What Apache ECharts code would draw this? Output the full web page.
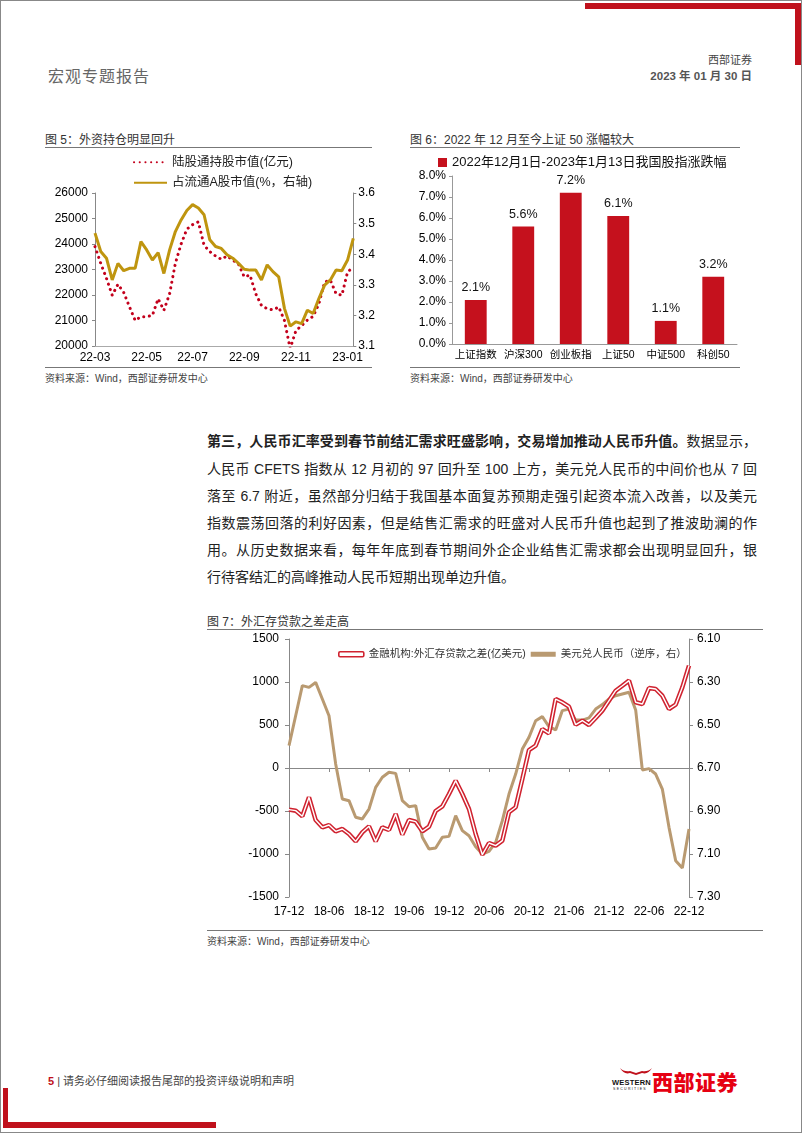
<!DOCTYPE html>
<html><head><meta charset="utf-8">
<script src="https://cdn.jsdelivr.net/npm/echarts@6/dist/echarts.min.js"></script>
<style>
html,body{margin:0;padding:0;background:#fff}
body{width:802px;height:1133px;position:relative;overflow:hidden;font-family:"Liberation Sans","Noto Sans CJK SC",sans-serif;color:#222}
.a{position:absolute}
.ttl{font-size:12px;color:#333;white-space:nowrap}
.src{font-size:10px;color:#444;white-space:nowrap}
.hl{height:1px;background:#777}
.p{left:207px;width:550px;font-size:14px;line-height:20px;text-align:justify;text-align-last:justify;color:#222;white-space:nowrap}
.p.last{text-align-last:left}
</style></head><body>
<div class="a" style="left:0;top:0;width:800px;height:1131px;border:1px solid #888"></div>
<div class="a" style="left:585px;top:3px;width:216px;height:6px;background:#c0111c"></div>
<div class="a" style="left:795px;top:3px;width:6px;height:62px;background:#c0111c"></div>
<div class="a" style="left:48px;top:63px;font-size:16px;color:#666;letter-spacing:1px">宏观专题报告</div>
<div class="a" style="right:50px;top:51px;font-size:11px;color:#444">西部证券</div>
<div class="a" style="right:50px;top:67px;font-size:11.5px;color:#555;font-weight:bold">2023 年 01 月 30 日</div>

<div class="a ttl" style="left:45px;top:130px">图 5：外资持仓明显回升</div>
<div class="a hl" style="left:45px;top:147px;width:327px"></div>
<div class="a" id="c5" style="left:40px;top:148px;width:338px;height:218px"></div>
<div class="a hl" style="left:45px;top:367px;width:327px"></div>
<div class="a src" style="left:45px;top:370px">资料来源：Wind，西部证券研发中心</div>

<div class="a ttl" style="left:410px;top:130px">图 6：2022 年 12 月至今上证 50 涨幅较大</div>
<div class="a hl" style="left:410px;top:147px;width:330px"></div>
<div class="a" id="c6" style="left:400px;top:148px;width:345px;height:218px"></div>
<div class="a hl" style="left:410px;top:367px;width:330px"></div>
<div class="a src" style="left:410px;top:370px">资料来源：Wind，西部证券研发中心</div>

<div class="a p" style="top:431px"><b>第三，人民币汇率受到春节前结汇需求旺盛影响，交易增加推动人民币升值。</b>数据显示，</div>
<div class="a p" style="top:459px">人民币 CFETS 指数从 12 月初的 97 回升至 100 上方，美元兑人民币的中间价也从 7 回</div>
<div class="a p" style="top:486px">落至 6.7 附近，虽然部分归结于我国基本面复苏预期走强引起资本流入改善，以及美元</div>
<div class="a p" style="top:513px">指数震荡回落的利好因素，但是结售汇需求的旺盛对人民币升值也起到了推波助澜的作</div>
<div class="a p" style="top:540px">用。从历史数据来看，每年年底到春节期间外企企业结售汇需求都会出现明显回升，银</div>
<div class="a p last" style="top:567px">行待客结汇的高峰推动人民币短期出现单边升值。</div>

<div class="a ttl" style="left:207px;top:612px">图 7：外汇存贷款之差走高</div>
<div class="a hl" style="left:207px;top:629px;width:556px"></div>
<div class="a" id="c7" style="left:200px;top:630px;width:575px;height:300px"></div>
<div class="a hl" style="left:207px;top:930px;width:556px"></div>
<div class="a src" style="left:207px;top:933px">资料来源：Wind，西部证券研发中心</div>

<div class="a" style="left:48px;top:1072px;font-size:11px;color:#444;white-space:nowrap"><b style="color:#c0111c">5</b> | 请务必仔细阅读报告尾部的投资评级说明和声明</div>
<svg class="a" style="left:618px;top:1066px" width="36" height="12"><path d="M2 2 Q6 9 12 7 L18 9 L24 7 Q30 9 34 2 Q30 6 24 5 L18 7 L12 5 Q6 6 2 2Z" fill="#c0111c"/></svg>
<div class="a" style="left:612px;top:1078px;font-size:7.5px;font-weight:bold;color:#111;letter-spacing:0.2px">WESTERN</div>
<div class="a" style="left:613px;top:1087px;font-size:3.5px;color:#111;letter-spacing:1.3px">SECURITIES</div>
<div class="a" style="left:652px;top:1066px;font-size:21px;font-weight:900;color:#e60012;letter-spacing:0.5px">西部证券</div>
<div class="a" style="left:3px;top:1088px;width:5px;height:40px;background:#c0111c"></div>
<div class="a" style="left:3px;top:1122px;width:213px;height:6px;background:#c0111c"></div>

<script>
const FONT = '"Liberation Sans","Noto Sans CJK SC",sans-serif';

// ---------- Chart 5 data ----------
const weeks5 = ['2022-03-04','2022-03-11','2022-03-18','2022-03-25','2022-04-01','2022-04-08','2022-04-15','2022-04-22','2022-04-29',
 '2022-05-06','2022-05-13','2022-05-20','2022-05-27','2022-06-03','2022-06-10','2022-06-17','2022-06-24',
 '2022-07-01','2022-07-08','2022-07-15','2022-07-22','2022-07-29','2022-08-05','2022-08-12','2022-08-19','2022-08-26',
 '2022-09-02','2022-09-09','2022-09-16','2022-09-23','2022-09-30','2022-10-07','2022-10-14','2022-10-21','2022-10-28',
 '2022-11-04','2022-11-11','2022-11-18','2022-11-25','2022-12-02','2022-12-09','2022-12-16','2022-12-23','2022-12-30',
 '2023-01-06','2023-01-13'];
const ticks5 = ['22-03','22-05','22-07','22-09','22-11','23-01'];
const hkHoldName = '陆股通持股市值(亿元)';
const hkHold = [23900,23240,22650,21990,22420,22100,21540,21000,21150,21150,21200,21850,21400,22050,23240,24000,
 24580,24760,24870,23950,23700,23530,23400,23530,23370,23210,22710,22780,22050,21590,21460,21420,21530,21000,
 19900,20600,20800,21020,21160,21650,22510,22580,22050,21990,22900,23100];
const shareName = '占流通A股市值(%，右轴)';
const share = [3.469,3.409,3.387,3.316,3.370,3.346,3.354,3.354,3.441,3.414,3.381,3.405,3.337,3.414,3.474,3.512,
 3.543,3.562,3.551,3.529,3.447,3.425,3.419,3.398,3.387,3.370,3.351,3.348,3.348,3.316,3.365,3.343,3.326,3.223,
 3.165,3.179,3.173,3.217,3.206,3.255,3.299,3.316,3.348,3.346,3.381,3.452];

// ---------- Chart 6 data ----------
const idxNames = ['上证指数','沪深300','创业板指','上证50','中证500','科创50'];
const idxChgName = '2022年12月1日-2023年1月13日我国股指涨跌幅';
const idxChg = [2.1,5.6,7.2,6.1,1.1,3.2];

// ---------- Chart 7 data ----------
const months7 = ['17-12','18-01','18-02','18-03','18-04','18-05','18-06','18-07','18-08','18-09','18-10','18-11','18-12',
 '19-01','19-02','19-03','19-04','19-05','19-06','19-07','19-08','19-09','19-10','19-11','19-12',
 '20-01','20-02','20-03','20-04','20-05','20-06','20-07','20-08','20-09','20-10','20-11','20-12',
 '21-01','21-02','21-03','21-04','21-05','21-06','21-07','21-08','21-09','21-10','21-11','21-12',
 '22-01','22-02','22-03','22-04','22-05','22-06','22-07','22-08','22-09','22-10','22-11','22-12'];
const fxGapName = '金融机构:外汇存贷款之差(亿美元)';
const fxGap = [-484,-496,-562,-341,-605,-690,-663,-736,-709,-767,-853,-748,-678,-853,-690,-721,-535,-775,-605,-624,
 -736,-682,-500,-446,-302,-147,-302,-477,-767,-1008,-872,-903,-845,-515,-457,-128,209,260,453,403,802,764,713,504,
 550,500,581,667,783,899,957,1016,764,744,930,919,841,686,736,938,1190];
const usdCnyName = '美元兑人民币（逆序，右）';
const usdCny = [6.596,6.457,6.317,6.325,6.302,6.379,6.457,6.681,6.844,6.852,6.929,6.937,6.891,6.790,6.743,6.720,6.725,
 6.852,6.880,6.875,7.022,7.077,7.072,7.022,7.018,6.922,6.991,7.015,7.066,7.100,7.088,7.046,6.945,6.821,6.728,6.612,
 6.557,6.480,6.461,6.508,6.523,6.433,6.426,6.477,6.477,6.467,6.426,6.405,6.379,6.364,6.356,6.348,6.430,6.709,6.703,
 6.728,6.798,6.976,7.131,7.165,6.984];

const ax = {color:'#000', fontSize:12, fontFamily:FONT};
const plain = v => String(v);

// ---------- Chart 5 ----------
const ym = d => d.slice(2,7);
const c5 = echarts.init(document.getElementById('c5'));
c5.setOption({
  animation:false,
  textStyle:{fontFamily:FONT},
  legend:{orient:'vertical', left:88, top:3, itemWidth:33, itemHeight:12, itemGap:8,
    itemStyle:{opacity:0},
    textStyle:{fontSize:12.5, color:'#222', fontFamily:FONT}, data:[hkHoldName, shareName]},
  grid:{left:55, right:19, top:45, bottom:20},
  xAxis:{type:'category', boundaryGap:false, data:weeks5,
    axisLine:{lineStyle:{color:'#aaa'}}, axisTick:{show:false},
    axisLabel:Object.assign({margin:6, formatter:ym,
      interval:(i,v)=> ticks5.includes(ym(v)) && (i===0 || ym(weeks5[i-1])!==ym(v))}, ax)},
  yAxis:[
    {type:'value', min:20000, max:26000, interval:1000,
      axisLine:{show:true, lineStyle:{color:'#888'}}, axisTick:{show:true, length:3, lineStyle:{color:'#888'}},
      splitLine:{show:false}, axisLabel:Object.assign({margin:7, formatter:plain}, ax)},
    {type:'value', min:3.1, max:3.6, interval:0.1, position:'right',
      axisLine:{show:true, lineStyle:{color:'#888'}}, axisTick:{show:true, length:3, lineStyle:{color:'#888'}},
      splitLine:{show:false}, axisLabel:Object.assign({margin:5, formatter:v=>v.toFixed(1)}, ax)}
  ],
  series:[
    {name:hkHoldName, type:'line', data:hkHold, symbol:'none',
      itemStyle:{color:'#c3001c'}, lineStyle:{color:'#c3001c', width:3, type:[0.1,5.6], cap:'round'}},
    {name:shareName, type:'line', yAxisIndex:1, data:share, symbol:'none',
      itemStyle:{color:'#bf950f'}, lineStyle:{color:'#bf950f', width:3}}
  ]
});

// ---------- Chart 6 ----------
const c6 = echarts.init(document.getElementById('c6'));
c6.setOption({
  animation:false,
  textStyle:{fontFamily:FONT},
  legend:{left:33, top:3, itemWidth:9, itemHeight:9, icon:'rect',
    textStyle:{fontSize:13, color:'#111', fontFamily:FONT}, data:[idxChgName]},
  grid:{left:52, right:8, top:28, bottom:22},
  xAxis:{type:'category', data:idxNames, axisLine:{lineStyle:{color:'#999'}}, axisTick:{show:false},
    axisLabel:{margin:6, interval:0, color:'#000', fontSize:10.5, fontFamily:FONT}},
  yAxis:{type:'value', min:0, max:8, interval:1,
    axisLine:{show:true, lineStyle:{color:'#999'}}, axisTick:{show:true, length:3, lineStyle:{color:'#999'}},
    splitLine:{show:false}, axisLabel:Object.assign({margin:6, formatter:v=>v.toFixed(1)+'%'}, ax)},
  series:[{name:idxChgName, type:'bar', data:idxChg, barWidth:'46%', itemStyle:{color:'#c5111d'},
    label:{show:true, position:'top', distance:6, fontSize:12.5, color:'#111', fontFamily:FONT,
      formatter:p=>p.value.toFixed(1)+'%'}}]
});

// ---------- Chart 7 ----------
const c7 = echarts.init(document.getElementById('c7'));
const RED7 = '#d02330', TAN7 = '#b99a71';
c7.setOption({
  animation:false,
  textStyle:{fontFamily:FONT},
  legend:{left:133, top:14, itemWidth:25, itemHeight:5, itemGap:5,
    textStyle:{fontSize:10.5, color:'#333', fontFamily:FONT},
    data:[{name:fxGapName, icon:'roundRect', itemStyle:{color:'#fff', borderColor:RED7, borderWidth:1.6}},
          {name:usdCnyName, icon:'rect', itemStyle:{color:TAN7}}]},
  grid:{left:89, right:86, top:9, bottom:33},
  xAxis:[
    {type:'category', boundaryGap:false, data:months7, position:'bottom',
      axisLine:{show:false, onZero:false}, axisTick:{show:false},
      axisLabel:Object.assign({margin:9, interval:5}, ax)},
    {type:'category', boundaryGap:false, data:months7, position:'bottom',
      axisLine:{show:true, onZero:true, onZeroAxisIndex:0, lineStyle:{color:'#888'}},
      axisTick:{show:true, interval:5, length:4, lineStyle:{color:'#888'}}, axisLabel:{show:false}}
  ],
  yAxis:[
    {type:'value', min:-1500, max:1500, interval:500,
      axisLine:{show:true, lineStyle:{color:'#888'}}, axisTick:{show:true, length:4, lineStyle:{color:'#888'}},
      splitLine:{show:false}, axisLabel:Object.assign({margin:10, formatter:plain}, ax)},
    {type:'value', min:6.1, max:7.3, interval:0.2, inverse:true, position:'right',
      axisLine:{show:true, lineStyle:{color:'#888'}}, axisTick:{show:true, length:4, lineStyle:{color:'#888'}},
      splitLine:{show:false}, axisLabel:Object.assign({margin:8, formatter:v=>v.toFixed(2)}, ax)}
  ],
  series:[
    {name:usdCnyName, type:'line', yAxisIndex:1, data:usdCny, symbol:'none',
      itemStyle:{color:TAN7}, lineStyle:{color:TAN7, width:3}},
    {name:fxGapName, type:'line', data:fxGap, symbol:'none',
      itemStyle:{color:RED7}, lineStyle:{color:RED7, width:4.5}},
    {name:'_inner', type:'line', data:fxGap, symbol:'none', silent:true,
      itemStyle:{color:'#fff'}, lineStyle:{color:'#fff', width:1.4}}
  ]
});
</script>
</body></html>
